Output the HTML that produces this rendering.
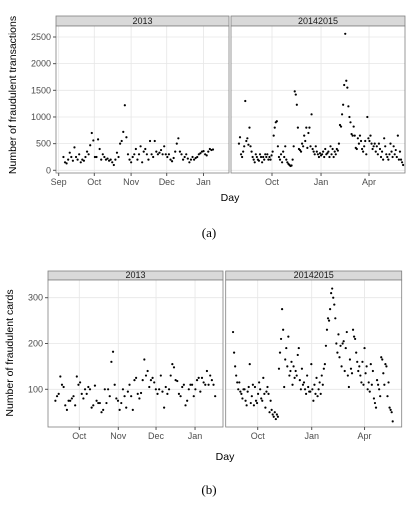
<!DOCTYPE html>
<html><head><meta charset="utf-8"><style>
body{margin:0;background:#fff;width:417px;height:506px;overflow:hidden}
svg{position:absolute;left:0;top:0}
</style></head><body>
<svg id="c" width="417" height="506" font-family="Liberation Sans, sans-serif"></svg>
<script>
// ---- data (day offsets relative to Oct 1 of first season) ----
const topTicks1=["Sep","Oct","Nov","Dec","Jan"];
const topTicks1Days=[-30,0,31,61,92];
const season2Ticks=["Oct","Jan","Apr"];
const season2TickDays=[0,92,182];
const botTicks1=["Oct","Nov","Dec","Jan"];
const botTicks1Days=[0,31,61,92];
const topYTicks=[0,500,1000,1500,2000,2500];
const botYTicks=[100,200,300];
const topA=[250,150,130,200,330,250,180,430,250,200,300,150,200,180,250,350,300,470,700,560,250,250,580,400,200,300,250,200,220,180,200,150,100,200,330,250,500,550,720,1220,620,300,200,150,250,300,400,200,300,450,150,350,400,300,200,550,300,250,550,350,300,330,380,300,450,300,250,300,200,170,230,350,500,600,350,300,200,250,300,220,150,200,250,200,230,250,300,320,350,360,300,280,350,400,380,390];
const topB=[500,620,300,250,350,450,1300,550,600,480,800,450,350,250,200,150,300,250,200,180,300,250,150,250,200,300,250,300,200,250,200,280,350,650,800,900,920,450,250,200,300,150,350,250,450,200,150,120,100,80,90,200,450,1480,1420,1230,800,400,380,350,500,450,650,550,800,420,700,800,450,1050,400,350,300,450,350,300,250,320,280,300,350,250,400,300,320,350,250,450,300,400,250,350,300,400,370,500,850,820,1050,1230,1600,2560,1680,1550,1200,1000,900,680,650,820,650,420,400,600,500,650,550,400,350,450,550,300,1000,600,550,650,500,400,450,500,350,450,300,500,400,250,350,200,600,450,300,250,200,300,500,350,250,450,300,380,250,650,200,350,200,150,100];
const botA=[75,85,90,128,110,105,65,55,75,75,80,85,65,128,110,115,90,80,100,90,105,100,60,65,108,75,70,70,50,55,100,70,100,85,160,182,110,80,75,55,70,100,85,60,95,110,85,55,120,125,90,80,92,120,165,130,140,105,120,125,115,100,90,100,130,95,60,105,90,100,130,155,148,120,118,90,85,105,110,65,75,100,110,110,85,100,120,125,95,125,115,110,140,110,130,120,110,85];
const botB=[225,180,150,130,115,100,115,95,90,80,100,100,75,65,95,105,155,70,85,110,65,105,75,70,90,115,100,80,75,125,90,60,95,105,90,50,75,55,45,40,50,35,45,40,145,180,210,275,230,105,165,190,150,215,130,140,160,110,150,125,140,130,175,190,120,100,145,110,115,100,90,130,105,95,95,155,100,75,110,90,125,85,100,115,90,130,110,145,155,195,230,255,250,275,310,320,300,285,255,200,180,220,170,195,150,200,205,140,190,225,130,105,165,145,135,230,215,210,180,160,140,150,130,115,160,110,190,135,150,100,115,95,155,110,140,80,70,60,120,110,100,85,170,165,135,110,155,150,85,115,60,55,50,30];

const NS="http://www.w3.org/2000/svg",svg=document.getElementById('c');
function el(t,a,p){const e=document.createElementNS(NS,t);for(const k in a)e.setAttribute(k,a[k]);(p||svg).appendChild(e);return e;}
function txt(s,a,p){const e=el('text',a,p);e.textContent=s;return e;}

function panel(o){
  const g=el('g',{});
  
  
  const sx=d=>o.x0+(d-o.d0)*o.ppd;
  el('rect',{x:o.l,y:o.st,width:o.r-o.l,height:o.pt-o.st,fill:'#d9d9d9',stroke:'#7f7f7f','stroke-width':0.8},g);
  const s=txt(o.title,{x:(o.l+o.r)/2,y:o.pt-2,'font-size':9,'text-anchor':'middle',fill:'#1a1a1a'},g);
  
  
  el('rect',{x:o.l,y:o.pt,width:o.r-o.l,height:o.pb-o.pt,fill:'#fff'},g);
  o.yticks.forEach(v=>{const y=o.sy(v);el('line',{x1:o.l,x2:o.r,y1:y,y2:y,stroke:'#e6e6e6','stroke-width':0.8},g);});
  o.tickDays.forEach(d=>{const x=sx(d);el('line',{x1:x,x2:x,y1:o.pt,y2:o.pb,stroke:'#e6e6e6','stroke-width':0.8},g);});
  o.vals.forEach((v,i)=>{
    const d=o.dStart+i*(o.dEnd-o.dStart)/(o.vals.length-1);
    const c=el('circle',{cx:sx(d),cy:o.sy(v),r:1.1,fill:'#000'},g);
    
    
  });
  el('rect',{x:o.l,y:o.pt,width:o.r-o.l,height:o.pb-o.pt,fill:'none',stroke:'#7f7f7f','stroke-width':0.8},g);
  o.tickDays.forEach((d,i)=>{const x=sx(d);el('line',{x1:x,x2:x,y1:o.pb,y2:o.pb+3,stroke:'#555'},g);
    const t=txt(o.ticks[i],{x:x,y:o.pb+12,'font-size':9,'text-anchor':'middle',fill:'#4d4d4d'},g);
    
    });
  if(o.ylab){o.yticks.forEach(v=>{const y=o.sy(v);el('line',{x1:o.l-3,x2:o.l,y1:y,y2:y,stroke:'#555'},g);
    const t=txt(String(v),{x:o.l-5,y:y+3,'font-size':9,'text-anchor':'end',fill:'#4d4d4d'},g);
    
    });}
}
const syT=v=>170.3-v*(133.3/2500);
const syB=v=>389.3-(v-100)*0.458;
panel({name:'top-panel-2013',title:'2013',l:56,r:229,st:16,pt:26,pb:173,x0:94.3,d0:0,ppd:1.187,sy:syT,yticks:topYTicks,tickDays:topTicks1Days,ticks:topTicks1,vals:topA,dStart:-26,dEnd:100,ylab:true});
panel({name:'top-panel-20142015',title:'20142015',l:231,r:405,st:16,pt:26,pb:173,x0:272,d0:0,ppd:0.533,sy:syT,yticks:topYTicks,tickDays:season2TickDays,ticks:season2Ticks,vals:topB,dStart:-62,dEnd:246,ylab:false});
panel({name:'bottom-panel-2013',title:'2013',l:48,r:223,st:271,pt:280,pb:427,x0:79.3,d0:0,ppd:1.258,sy:syB,yticks:botYTicks,tickDays:botTicks1Days,ticks:botTicks1,vals:botA,dStart:-19,dEnd:108,ylab:true});
panel({name:'bottom-panel-20142015',title:'20142015',l:225.7,r:401.7,st:271,pt:280,pb:427,x0:257.7,d0:0,ppd:0.587,sy:syB,yticks:botYTicks,tickDays:season2TickDays,ticks:season2Ticks,vals:botB,dStart:-42,dEnd:230,ylab:false});
function lab(s,a,n){const t=txt(s,a);}
lab('Number of fraudulent transactions',{x:16,y:95,'font-size':10.5,'text-anchor':'middle',transform:'rotate(-90 16 95)',fill:'#000'},'y-axis-title-top');
lab('Number of fraudulent cards',{x:13,y:353,'font-size':10.5,'text-anchor':'middle',transform:'rotate(-90 13 353)',fill:'#000'},'y-axis-title-bottom');
lab('Day',{x:230,y:201,'font-size':10.5,'text-anchor':'middle'},'x-axis-title-top');
lab('Day',{x:225,y:460,'font-size':10.5,'text-anchor':'middle'},'x-axis-title-bottom');
lab('(a)',{x:209,y:237,'font-size':13,'text-anchor':'middle','font-family':'Liberation Serif, serif'},'caption-a');
lab('(b)',{x:209,y:494,'font-size':13,'text-anchor':'middle','font-family':'Liberation Serif, serif'},'caption-b');
</script>
</body></html>
